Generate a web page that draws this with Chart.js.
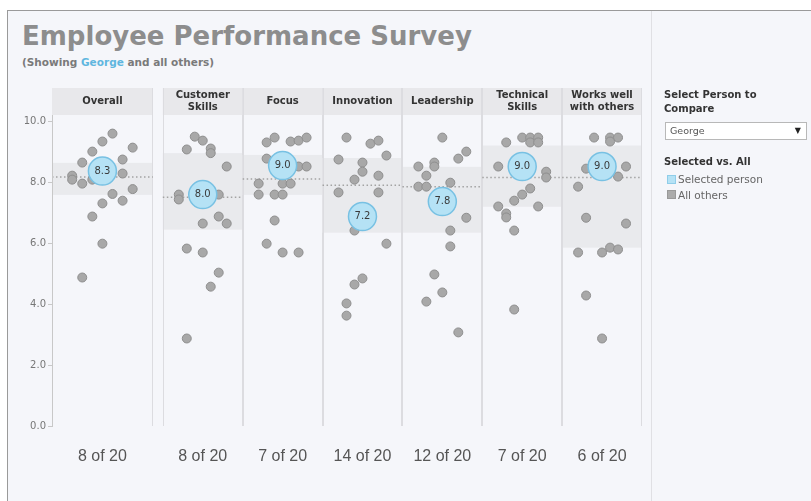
<!DOCTYPE html>
<html>
<head>
<meta charset="utf-8">
<script src="https://cdn.jsdelivr.net/npm/chart.js@4.4.1/dist/chart.umd.min.js"></script>
<style>
  body { margin: 0; width: 811px; height: 501px; overflow: hidden; background: #fff; position: relative; font-family: 'DejaVu Sans', sans-serif; }
  #frame { position: absolute; left: 7px; top: 10px; width: 810px; height: 500px; border-left: 1px solid #9a9a9a; border-top: 1px solid #9a9a9a; background: #f5f6fa; }
  #sideLine { position: absolute; left: 651px; top: 11px; width: 1px; height: 490px; background: #e0e0e4; }
  #title { position: absolute; left: 22px; top: 23px; font: bold 26px/26px 'DejaVu Sans'; color: #8d8d8d; white-space: nowrap; }
  #subtitle { position: absolute; left: 22px; top: 56px; font: bold 10.5px/12px 'DejaVu Sans'; color: #7a7a7a; white-space: nowrap; }
  #subtitle span { color: #5fb6df; }
  #chart { position: absolute; left: 0; top: 0; }
  .side { position: absolute; left: 664px; color: #333; white-space: nowrap; }
  #pickTitle { top: 88px; font: bold 10px/14px 'DejaVu Sans'; }
  #picker { position: absolute; left: 665px; top: 122px; width: 140px; height: 16px; border: 1px solid #b8b8b8; background: #fff; font: 9.5px/16px 'DejaVu Sans'; color: #555; }
  #picker .name { position: absolute; left: 4px; top: 0; }
  #picker .arrow { position: absolute; right: 5px; top: 0; font-size: 8px; color: #222; }
  #legTitle { top: 155px; font: bold 10px/14px 'DejaVu Sans'; }
  .swatch { position: absolute; left: 667px; width: 8px; height: 8px; }
  .legText { position: absolute; left: 678px; font: 10.5px/14px 'DejaVu Sans'; color: #666; white-space: nowrap; }
</style>
</head>
<body>
<div id="frame"></div>
<div id="sideLine"></div>
<div id="title">Employee Performance Survey</div>
<div id="subtitle">(Showing <span>George</span> and all others)</div>
<canvas id="chart" width="811" height="501"></canvas>
<div class="side" id="pickTitle">Select Person to<br>Compare</div>
<div id="picker"><span class="name">George</span><span class="arrow">&#9660;</span></div>
<div class="side" id="legTitle">Selected vs. All</div>
<div class="swatch" style="top:175px;background:#b5e2f5;border:1px solid #8fcde9;width:7px;height:7px;"></div>
<div class="legText" style="top:172px;">Selected person</div>
<div class="swatch" style="top:190px;background:#ababab;border:1px solid #999;width:7px;height:7px;"></div>
<div class="legText" style="top:188px;">All others</div>

<script>
// categories (header text, split in lines as shown)
const categories = [
  ['Overall'],
  ['Customer', 'Skills'],
  ['Focus'],
  ['Innovation'],
  ['Leadership'],
  ['Technical', 'Skills'],
  ['Works well', 'with others']
];
const rankLabels = ['8 of 20', '8 of 20', '7 of 20', '14 of 20', '12 of 20', '7 of 20', '6 of 20'];
const yTicks = [0, 2, 4, 6, 8, 10];

// selected person (George): plotted position and printed value
const selectedScores = [8.36, 7.59, 8.54, 6.87, 7.36, 8.51, 8.51];
const selectedLabels = ['8.3', '8.0', '9.0', '7.2', '7.8', '9.0', '9.0'];

// middle band and average line per category
const bandLow = [7.58, 6.44, 7.58, 6.34, 6.34, 7.19, 5.85];
const bandHigh = [8.63, 8.95, 8.89, 8.79, 8.5, 9.2, 9.2];
const averages = [8.17, 7.5, 8.1, 7.9, 7.85, 8.15, 8.15];

// all others: score and swarm column (-3..3)
const overallScores = [9.59, 9.33, 9.13, 9.0, 8.74, 8.64, 8.21, 8.08, 7.95, 8.08, 8.28, 7.77, 7.61, 7.39, 7.3, 6.87, 5.98, 4.87, 8.4];
const overallCols   = [1, 0, 3, -1, 2, -2, -3, -3, -2, -1, 2, 3, 1, 2, 0, -1, 0, -2, 0];
const customerScores = [9.49, 9.36, 9.07, 9.1, 8.95, 8.51, 7.59, 7.43, 7.59, 6.87, 6.64, 6.64, 5.82, 5.69, 5.03, 4.57, 2.87, 7.7, 7.5];
const customerCols   = [-1, 0, -2, 1, 1, 3, -3, -3, 2, 2, 0, 3, -2, 0, 2, 1, -2, -1, 1];
const focusScores = [9.3, 9.46, 9.33, 9.36, 9.46, 8.77, 8.51, 8.51, 7.95, 7.95, 7.95, 7.59, 7.59, 7.59, 6.74, 5.98, 5.69, 5.69, 8.5];
const focusCols   = [-2, -1, 1, 2, 3, -2, 2, 3, -3, 0, 1, -3, -1, 0, -1, -2, 0, 2, -1];
const innovationScores = [9.46, 9.26, 9.36, 8.87, 8.74, 8.64, 8.34, 8.21, 8.08, 7.66, 7.66, 6.41, 5.98, 4.84, 4.64, 4.02, 3.62, 7.0, 6.8];
const innovationCols   = [-2, 1, 2, 3, -3, 0, 0, 2, -1, -3, 2, -1, 3, 0, -1, -2, -2, 0, 1];
const leadershipScores = [9.46, 9.0, 8.77, 8.51, 8.64, 8.51, 8.21, 7.85, 7.85, 7.98, 6.83, 6.41, 5.89, 4.97, 4.38, 4.08, 3.07, 7.4, 7.2];
const leadershipCols   = [0, 3, 2, -3, -1, -1, -2, -3, -2, 1, 3, 1, 1, -1, 0, -2, 2, -1, 1];
const technicalScores = [9.3, 9.46, 9.46, 9.46, 9.3, 9.3, 8.51, 8.34, 8.15, 7.79, 7.59, 7.39, 7.2, 7.2, 6.97, 6.84, 6.41, 3.82, 8.5];
const technicalCols   = [-2, 0, 1, 2, 1, 2, -3, 3, 3, 1, 0, -1, -3, 2, -2, -2, -1, -1, -1];
const teamworkScores = [9.46, 9.46, 9.46, 9.33, 8.44, 8.51, 8.18, 7.85, 6.83, 6.64, 5.69, 5.69, 5.85, 5.79, 4.28, 2.87, 8.5, 8.6, 8.4];
const teamworkCols   = [-1, 1, 2, 1, -2, 3, 2, -3, -2, 3, -3, 0, 1, 2, -2, 0, -1, 0, 1];

const othersScores = [overallScores, customerScores, focusScores, innovationScores, leadershipScores, technicalScores, teamworkScores];
const othersCols = [overallCols, customerCols, focusCols, innovationCols, leadershipCols, technicalCols, teamworkCols];

// panel layout along x (one unit = one normal panel)
const OVERALL_W = 1.2625;
const GAP = 0.125;
const X_MAX = OVERALL_W + GAP + categories.length - 1;
const HEADER_TOP = 88;

const panelStart = i => (i === 0 ? 0 : OVERALL_W + GAP + (i - 1));
const panelWidth = i => (i === 0 ? OVERALL_W : 1);
const panelCenter = i => panelStart(i) + panelWidth(i) / 2;

const othersPoints = [];
othersScores.forEach((scores, i) => {
  scores.forEach((v, j) => {
    othersPoints.push({ x: panelCenter(i) + othersCols[i][j] * 0.1 * panelWidth(i), y: v });
  });
});
const selectedPoints = selectedScores.map((v, i) => ({ x: panelCenter(i), y: v }));

const panelsPlugin = {
  id: 'panels',
  beforeDraw(chart) {
    const { ctx, chartArea, scales: { x, y } } = chart;
    ctx.save();
    categories.forEach((lines, i) => {
      const x0 = x.getPixelForValue(panelStart(i));
      const x1 = x.getPixelForValue(panelStart(i) + panelWidth(i));

      // header
      ctx.fillStyle = '#e8e8eb';
      ctx.fillRect(x0, HEADER_TOP, x1 - x0, chartArea.top - HEADER_TOP);
      ctx.fillStyle = '#333';
      ctx.font = 'bold 10px "DejaVu Sans"';
      ctx.textAlign = 'center';
      ctx.textBaseline = 'middle';
      const mid = (HEADER_TOP + chartArea.top) / 2;
      lines.forEach((t, k) => {
        ctx.fillText(t, (x0 + x1) / 2, mid + (k - (lines.length - 1) / 2) * 12);
      });

      // middle band
      const yh = y.getPixelForValue(bandHigh[i]);
      const yl = y.getPixelForValue(bandLow[i]);
      ctx.fillStyle = '#e9eaed';
      ctx.fillRect(x0, yh, x1 - x0, yl - yh);

      // dividers
      ctx.strokeStyle = '#dcdce0';
      ctx.lineWidth = 1;
      ctx.beginPath();
      if (i > 0) {
        ctx.moveTo(Math.round(x0) + 0.5, HEADER_TOP);
        ctx.lineTo(Math.round(x0) + 0.5, chartArea.bottom);
      }
      ctx.moveTo(Math.round(x1) - 0.5, HEADER_TOP);
      ctx.lineTo(Math.round(x1) - 0.5, chartArea.bottom);
      ctx.stroke();

      // average line
      const ya = y.getPixelForValue(averages[i]);
      ctx.strokeStyle = '#a3a3a3';
      ctx.lineWidth = 1.5;
      ctx.setLineDash([1.5, 2.5]);
      ctx.beginPath();
      ctx.moveTo(x0, ya);
      ctx.lineTo(x1, ya);
      ctx.stroke();
      ctx.setLineDash([]);
    });
    ctx.restore();
  },
  afterDatasetsDraw(chart) {
    const { ctx, scales: { x, y } } = chart;
    ctx.save();
    ctx.fillStyle = '#3a3a3a';
    ctx.font = '10px "DejaVu Sans"';
    ctx.textAlign = 'center';
    ctx.textBaseline = 'middle';
    selectedScores.forEach((v, i) => {
      ctx.fillText(selectedLabels[i], x.getPixelForValue(panelCenter(i)), y.getPixelForValue(v));
    });
    ctx.restore();
  }
};

new Chart(document.getElementById('chart'), {
  type: 'scatter',
  data: {
    datasets: [
      {
        label: 'Selected person',
        data: selectedPoints,
        order: 0,
        pointRadius: 14,
        backgroundColor: '#b5e2f5',
        borderColor: '#78c1e3',
        borderWidth: 1.5
      },
      {
        label: 'All others',
        data: othersPoints,
        order: 1,
        pointRadius: 4.5,
        backgroundColor: '#a8a8a8',
        borderColor: '#8e8e8e',
        borderWidth: 1
      }
    ]
  },
  options: {
    responsive: false,
    animation: false,
    events: [],
    layout: { padding: { left: 0, right: 169, top: 115, bottom: 0 } },
    plugins: { legend: { display: false }, tooltip: { enabled: false } },
    scales: {
      x: {
        type: 'linear',
        min: 0,
        max: X_MAX,
        afterFit: s => { s.height = 75; },
        afterBuildTicks: s => { s.ticks = categories.map((c, i) => ({ value: panelCenter(i) })); },
        ticks: {
          autoSkip: false,
          maxRotation: 0,
          callback: (v, i) => rankLabels[i],
          color: '#555',
          font: { family: 'Liberation Sans', size: 16 },
          padding: 21
        },
        grid: { display: false, drawTicks: false },
        border: { display: false }
      },
      y: {
        min: 0,
        max: 10.2,
        afterFit: s => { s.width = 52; },
        afterBuildTicks: s => { s.ticks = yTicks.map(v => ({ value: v })); },
        ticks: {
          callback: v => v.toFixed(1),
          color: '#777',
          font: { family: 'DejaVu Sans', size: 10 },
          padding: 2
        },
        grid: { drawOnChartArea: false, tickLength: 4, color: '#c8c8c8' },
        border: { color: '#c8c8c8' }
      }
    }
  },
  plugins: [panelsPlugin]
});
</script>
</body>
</html>
